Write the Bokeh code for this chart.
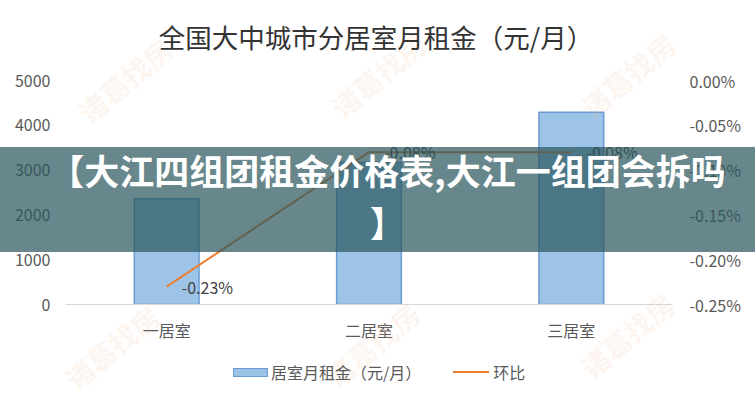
from bokeh.plotting import figure
from bokeh.models import (FactorRange, Range1d, LinearAxis, FixedTicker, NumeralTickFormatter,
                          ColumnDataSource, Div, InlineStyleSheet)
from bokeh.core.properties import value
from bokeh.embed import file_html
from bokeh.resources import INLINE

# ---- data ----
rooms = ["一居室", "二居室", "三居室"]
rent = [2360, 3170, 4290]                 # 居室月租金（元/月）
mom = [-0.0023, -0.0008, -0.0008]         # 环比
rent_ticks = [0, 1000, 2000, 3000, 4000, 5000]
pct_ticks = [-0.0025, -0.002, -0.0015, -0.001, -0.0005, 0.0]
title_text = "全国大中城市分居室月租金（元/月）"
bar_name = "居室月租金（元/月）"
line_name = "环比"
banner_line1 = "【大江四组团租金价格表,大江一组团会拆吗"
banner_line2 = "】"
watermark = "诸葛找房"

FONT = "Noto Sans CJK SC"
GRAY = "#595959"
BAR_FILL = "#9DC3E6"
BAR_LINE = "#6A9BD1"
LINE_COLOR = "#ED7D31"
W, H = 755, 400

p = figure(x_range=FactorRange(factors=rooms, range_padding=0),
           y_range=Range1d(0, 5000),
           width=W, height=H, output_backend="svg", toolbar_location=None,
           min_border_left=65, min_border_right=83, min_border_top=80, min_border_bottom=96)
p.outline_line_color = None
p.xgrid.visible = False
p.ygrid.visible = False
p.background_fill_color = "white"
p.border_fill_color = "white"

# left axis
ya = p.yaxis[0]
ya.ticker = FixedTicker(ticks=rent_ticks)
ya.axis_line_color = None
ya.major_tick_line_color = None
ya.minor_tick_line_color = None
ya.major_tick_out = 0
ya.major_tick_in = 0
ya.major_label_standoff = 15
ya.major_label_text_font = FONT
ya.major_label_text_font_size = "16px"
ya.major_label_text_color = GRAY

# bottom axis
xa = p.xaxis[0]
xa.axis_line_color = "#D9D9D9"
xa.axis_line_width = 1
xa.major_tick_line_color = None
xa.minor_tick_line_color = None
xa.major_tick_out = 0
xa.major_tick_in = 0
xa.major_label_standoff = 13
xa.major_label_text_font = FONT
xa.major_label_text_font_size = "16px"
xa.major_label_text_color = GRAY

# right axis
p.extra_y_ranges = {"pct": Range1d(-0.0025, 0.0)}
ra = LinearAxis(y_range_name="pct", ticker=FixedTicker(ticks=pct_ticks),
                formatter=NumeralTickFormatter(format="0.00%"))
ra.axis_line_color = None
ra.major_tick_line_color = None
ra.minor_tick_line_color = None
ra.major_tick_out = 0
ra.major_tick_in = 0
ra.major_label_standoff = 17
ra.major_label_text_font = FONT
ra.major_label_text_font_size = "16px"
ra.major_label_text_color = GRAY
p.add_layout(ra, "right")

src = ColumnDataSource(dict(room=rooms, rent=rent, mom=mom,
                            lab=[f"{v * 100:.2f}%" for v in mom]))

p.vbar(x="room", top="rent", width=0.32, source=src,
       fill_color=BAR_FILL, line_color=BAR_LINE, line_width=1.5)
p.line(x="room", y="mom", source=src, y_range_name="pct",
       line_color=LINE_COLOR, line_width=2)
p.text(x="room", y="mom", text="lab", source=src, y_range_name="pct",
       x_offset=15, text_align="left", text_baseline="middle",
       text_font=value(FONT), text_font_size="16px", text_color="#404040")


def overlay_sheet(left, top, w, h):
    return InlineStyleSheet(css=(
        f":host {{ position: absolute !important; left: {left}px !important; top: {top}px !important; "
        f"width: {w}px !important; height: {h}px !important; pointer-events: none !important; "
        f"margin: 0 !important; padding: 0 !important; overflow: visible !important; z-index: 5; }}"))


# title, legend and watermarks (drawn outside the plot frame, so as HTML overlay)
wm_pos = [(125, 80), (378, 75), (628, 75), (112, 347), (372, 345), (627, 335)]
wm_spans = "".join(
    f'<span style="position:absolute;left:{x}px;top:{y}px;transform:translate(-50%,-50%) rotate(-40deg);'
    f'font-family:\'{FONT}\';font-weight:bold;font-size:28px;line-height:28px;color:rgba(244,177,131,0.15);'
    f'white-space:nowrap;">{watermark}</span>' for (x, y) in wm_pos)
title_span = (
    f'<span style="position:absolute;left:376px;top:36px;transform:translate(-50%,-50%);'
    f'font-family:\'{FONT}\';font-size:26.5px;line-height:27px;color:#333333;white-space:nowrap;">'
    f'{title_text}</span>')
legend_html = (
    f'<div style="position:absolute;left:233px;top:362px;height:20px;display:flex;align-items:center;'
    f'font-family:\'{FONT}\';font-size:16px;line-height:20px;color:{GRAY};white-space:nowrap;">'
    f'<span style="display:inline-block;width:35px;height:9px;background:{BAR_FILL};'
    f'border:1px solid {BAR_LINE};margin-right:3px;"></span>'
    f'<span>{bar_name}</span>'
    f'<span style="display:inline-block;width:36px;height:2px;background:{LINE_COLOR};'
    f'margin-left:32px;margin-right:4px;"></span>'
    f'<span>{line_name}</span></div>')
over_div = Div(text=f'<div style="position:absolute;left:0;top:0;width:{W}px;height:{H}px;">'
                    f'{wm_spans}{title_span}{legend_html}</div>',
               width=W, height=H, stylesheets=[overlay_sheet(0, 0, W, H)])

# banner overlay
line_style = (f'position:absolute;left:20px;width:{W - 20}px;height:46px;text-align:center;'
              f'white-space:nowrap;line-height:46px;')
banner_html = (
    f'<div style="position:absolute;left:0;top:0;width:{W}px;height:105px;'
    f'background:rgba(42,86,93,0.71);color:white;font-family:\'{FONT}\';font-weight:bold;font-size:35px;">'
    f'<div style="{line_style}top:0px;">{banner_line1}</div>'
    f'<div style="{line_style}top:52px;">{banner_line2}</div></div>')
banner_div = Div(text=banner_html, width=W, height=105,
                 stylesheets=[overlay_sheet(0, 147, W, 105)])

p.elements = [over_div, banner_div]
p.stylesheets = [InlineStyleSheet(css=":host { position: relative; }")]

open("out.html", "w").write(file_html(p, INLINE))
